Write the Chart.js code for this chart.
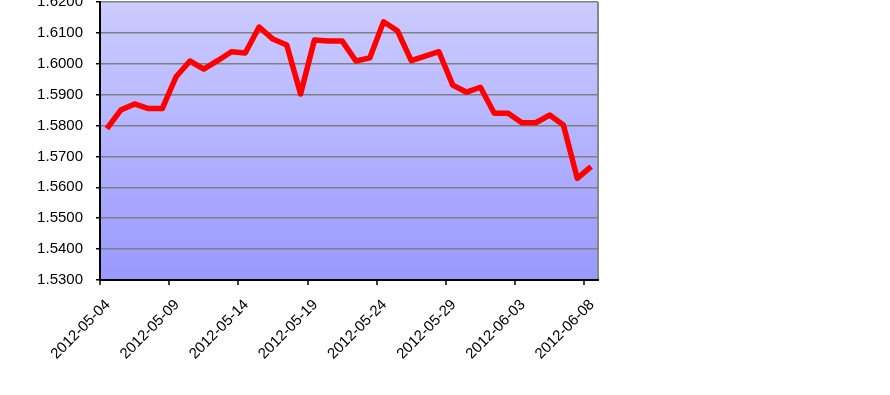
<!DOCTYPE html>
<html>
<head>
<meta charset="utf-8">
<script src="https://cdn.jsdelivr.net/npm/chart.js@4.4.1/dist/chart.umd.min.js"></script>
<style>
html,body{margin:0;padding:0;background:#fff;overflow:hidden;width:890px;height:395px;}
#wrap{position:absolute;left:0;top:-20px;width:890px;height:415px;}
</style>
</head>
<body>
<div id="wrap"><canvas id="c" width="890" height="415"></canvas></div>
<script>
const dates = ["2012-05-04","2012-05-05","2012-05-06","2012-05-07","2012-05-08","2012-05-09","2012-05-10","2012-05-11","2012-05-12","2012-05-13","2012-05-14","2012-05-15","2012-05-16","2012-05-17","2012-05-18","2012-05-19","2012-05-20","2012-05-21","2012-05-22","2012-05-23","2012-05-24","2012-05-25","2012-05-26","2012-05-27","2012-05-28","2012-05-29","2012-05-30","2012-05-31","2012-06-01","2012-06-02","2012-06-03","2012-06-04","2012-06-05","2012-06-06","2012-06-07","2012-06-08"];
const rates = [1.5790,1.5850,1.5870,1.5855,1.5855,1.5958,1.6009,1.5983,1.6010,1.6039,1.6035,1.6119,1.6080,1.6061,1.5902,1.6077,1.6074,1.6074,1.6009,1.6019,1.6136,1.6107,1.6010,1.6025,1.6039,1.5931,1.5908,1.5924,1.5840,1.5840,1.5809,1.5809,1.5834,1.5802,1.5629,1.5667];
const yMin = 1.53, yMax = 1.62, yStep = 0.01;
const labelEvery = 5;

const bgPlugin = {
  id: 'plotBg',
  beforeDraw(chart) {
    const {ctx, chartArea: a} = chart;
    const g = ctx.createLinearGradient(0, a.top, 0, a.bottom);
    g.addColorStop(0, '#CCCCFF');
    g.addColorStop(1, '#9999FF');
    ctx.save();
    ctx.fillStyle = g;
    ctx.fillRect(a.left, a.top, a.right - a.left, a.bottom - a.top);
    ctx.restore();
  }
};

new Chart(document.getElementById('c'), {
  type: 'line',
  data: {
    labels: dates,
    datasets: [{
      data: rates,
      borderColor: '#FF0000',
      borderWidth: 5.5,
      pointRadius: 0,
      tension: 0,
      borderJoinStyle: 'round',
      fill: false
    }]
  },
  plugins: [bgPlugin],
  options: {
    responsive: false,
    animation: false,
    devicePixelRatio: 1,
    layout: { padding: { left: 0, top: 22, right: 292, bottom: 0 } },
    plugins: { legend: { display: false }, tooltip: { enabled: false } },
    scales: {
      x: {
        type: 'category',
        offset: true,
        afterFit(s) { s.height = 115; },
        border: { color: '#000', width: 2 },
        grid: {
          offset: true,
          drawOnChartArea: true,
          tickLength: 5,
          lineWidth: 2,
          color: c => (c.index === undefined ? '#888888' : 'rgba(0,0,0,0)'),
          tickColor: c => (c.index !== undefined && c.index % labelEvery === 0 ? '#000' : 'rgba(0,0,0,0)'),
          tickWidth: 1.5
        },
        ticks: {
          autoSkip: false,
          minRotation: 45,
          maxRotation: 45,
          labelOffset: 1,
          padding: 11,
          color: '#000',
          font: { family: 'Liberation Sans, Arial, sans-serif', size: 15 },
          callback: (v, i) => (i % labelEvery === 0 ? dates[i] : '')
        }
      },
      y: {
        min: yMin,
        max: yMax,
        afterFit(s) { s.width = 100; },
        border: { color: '#000', width: 2 },
        grid: {
          color: '#808080',
          lineWidth: 1.5,
          tickLength: 4,
          tickColor: '#000',
          tickWidth: 1.5
        },
        ticks: {
          stepSize: yStep,
          padding: 13,
          color: '#000',
          font: { family: 'Liberation Sans, Arial, sans-serif', size: 15 },
          callback: v => Number(v).toFixed(4)
        }
      }
    }
  }
});
</script>
</body>
</html>
